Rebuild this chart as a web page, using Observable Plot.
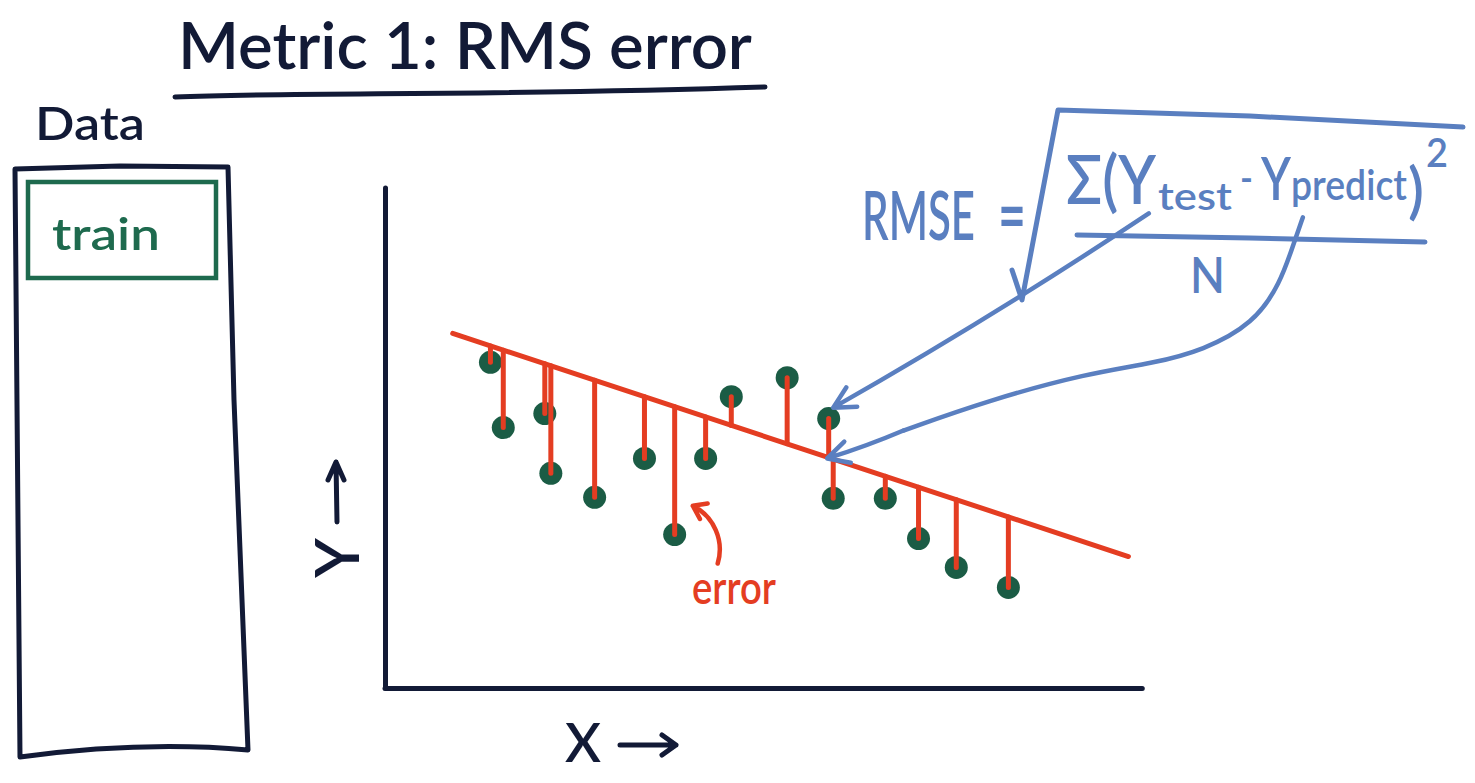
<!DOCTYPE html>
<html><head><meta charset="utf-8">
<script src="https://cdn.jsdelivr.net/npm/d3@7"></script>
<script src="https://cdn.jsdelivr.net/npm/@observablehq/plot@0.6"></script>
<style>
html,body{margin:0;padding:0;background:#fff;}
#wrap{position:relative;width:1475px;height:783px;overflow:hidden;}
#chart{position:absolute;left:0;top:0;}
#chart svg{overflow:visible;display:block;}
#deco{position:absolute;left:0;top:0;}
</style></head>
<body><div id="wrap">
<div id="chart"></div>
<svg id="deco" width="1475" height="783" font-family="Lato, 'DejaVu Sans', sans-serif" font-weight="600">
  <g fill="#121a36">
    <text x="178" y="69" font-size="66" data-w="574">Metric 1: RMS error</text>
    <text x="35" y="140" font-size="46" data-w="110">Data</text>
    <text x="565" y="762" font-size="54" data-w="36">X</text>
    <text x="335" y="558" font-size="62" text-anchor="middle" dominant-baseline="central" transform="rotate(-90 335 558)">Y</text>
  </g>
  <g stroke="#121a36" stroke-width="5" fill="none" stroke-linecap="round" stroke-linejoin="round">
    <path d="M175,97 C300,92 500,96 765,87"/>
    <path d="M15,169 L120,166 L228,167 L234,400 L248,750 C180,744 110,745 20,757 Z"/>
    <path d="M337,522 L336,462 M328,480 L336,462 L344,480"/>
    <path d="M620,745 L676,745 M662,735 L676,745 L662,755"/>
  </g>
  <rect x="28" y="182" width="188" height="96" fill="none" stroke="#1e6a4e" stroke-width="4.5"/>
  <text x="52" y="250" font-size="44" fill="#1e6a4e" data-w="108">train</text>
  <g fill="#5a7fc0">
    <text x="862" y="240" font-size="68" data-w="113">RMSE</text>
    <text x="998" y="242" font-size="76" data-w="28">=</text>
    <text x="1066" y="204" font-size="68" data-w="90">Σ(Y</text>
    <text x="1158" y="210" font-size="38" data-w="74">test</text>
    <text x="1240" y="192" font-size="40" data-w="13">-</text>
    <text x="1261" y="200" font-size="60" data-w="30">Y</text>
    <text x="1291" y="200" font-size="42" data-w="116">predict</text>
    <text x="1408" y="212" font-size="62" data-w="16">)</text>
    <text x="1426" y="167" font-size="40" data-w="22">2</text>
    <text x="1190" y="293" font-size="50" data-w="35">N</text>
  </g>
  <g stroke="#5a7fc0" stroke-width="5" fill="none" stroke-linecap="round" stroke-linejoin="round">
    <path d="M1077,235 L1250,238 L1425,242"/>
    <path d="M1012,270 L1022,300 L1058,110 L1250,116 L1463,127"/>
  </g>
  <text x="692" y="604" font-size="46" fill="#e43d22" data-w="84">error</text>
</svg>
</div>
<script>
// observed points (x, y in chart units 0-100)
const pointX = [13.9, 15.6, 21.1, 21.9, 27.7, 34.3, 38.3, 42.4, 45.8, 53.2, 58.7, 59.3, 66.2, 70.6, 75.6, 82.5];
const pointY = [65.5, 52.4, 55.2, 43.2, 38.4, 46.2, 30.9, 46.2, 58.6, 62.4, 54.2, 38.2, 38.2, 30.1, 24.3, 20.3];
// fitted line end points
const fitX = [8.9, 98.4];
const fitY = [71.3, 26.5];
// axis extents
const axisMax = [100.3, 100.4];
// annotation: straight arrow from y_test to a point [x1, y1, x2, y2]
const testArrow = [101.1, 95.4, 59.3, 56.4];
// annotation: curved path from y_predict down to the line (traced), then its arrow tip
const predictPathX = [121.5, 120.3, 118.5, 115.0, 108.3, 101.7, 93.0, 79.7, 68.6];
const predictPathY = [94.6, 89.4, 81.3, 73.3, 67.9, 65.3, 63.3, 57.8, 51.8];
const predictTip = [68.6, 51.8, 58.5, 46.2];
// annotation: "error" arrow [x1, y1, x2, y2]
const errorArrow = [44.0, 25.1, 40.7, 36.7];

const navy = "#121a36", red = "#e43d22", green = "#1b5c45", blue = "#5a7fc0";
const fitAt = x => fitY[0] + (fitY[1] - fitY[0]) * (x - fitX[0]) / (fitX[1] - fitX[0]);
const pts = pointX.map((x, i) => ({x, y: pointY[i], yhat: fitAt(x)}));
const fit = fitX.map((x, i) => ({x, y: fitY[i]}));
const predictPath = predictPathX.map((x, i) => ({x, y: predictPathY[i]}));
const arr = a => [{x1: a[0], y1: a[1], x2: a[2], y2: a[3]}];
const A = {x1: "x1", y1: "y1", x2: "x2", y2: "y2"};

const chart = Plot.plot({
  width: 1475, height: 783,
  marginLeft: 385, marginRight: 335, marginTop: 190, marginBottom: 95,
  x: {domain: [0, 100], axis: null},
  y: {domain: [0, 100], axis: null},
  style: {background: "transparent", overflow: "visible"},
  marks: [
    Plot.ruleY([0], {x1: 0, x2: axisMax[0], stroke: navy, strokeWidth: 5, strokeLinecap: "round"}),
    Plot.ruleX([0], {y1: 0, y2: axisMax[1], stroke: navy, strokeWidth: 5, strokeLinecap: "round"}),
    Plot.dot(pts, {x: "x", y: "y", r: 11.5, fill: green}),
    Plot.link(pts, {x1: "x", x2: "x", y1: "yhat", y2: "y", stroke: red, strokeWidth: 5, strokeLinecap: "round"}),
    Plot.line(fit, {x: "x", y: "y", stroke: red, strokeWidth: 5, strokeLinecap: "round"}),
    Plot.arrow(arr(errorArrow), {...A, bend: -40, stroke: red, strokeWidth: 4.5, headLength: 5, headAngle: 70}),
    Plot.arrow(arr(testArrow), {...A, bend: 2, stroke: blue, strokeWidth: 4.5, headLength: 8, headAngle: 55}),
    Plot.line(predictPath, {x: "x", y: "y", curve: "basis", stroke: blue, strokeWidth: 4.5, strokeLinecap: "round"}),
    Plot.arrow(arr(predictTip), {...A, bend: 3, stroke: blue, strokeWidth: 4.5, headLength: 8, headAngle: 55})
  ]
});
document.getElementById("chart").appendChild(chart);

// squeeze the hand-lettered texts to the widths seen in the sketch
function fitTexts() {
  document.querySelectorAll("#deco text[data-w]").forEach(t => {
    t.removeAttribute("transform");
    const w = t.getComputedTextLength();
    if (!w) return;
    const s = +t.dataset.w / w;
    const x = +t.getAttribute("x");
    t.setAttribute("transform", `translate(${x * (1 - s)},0) scale(${s},1)`);
  });
}
fitTexts();
if (document.fonts && document.fonts.ready) document.fonts.ready.then(fitTexts);
</script>
</body></html>
